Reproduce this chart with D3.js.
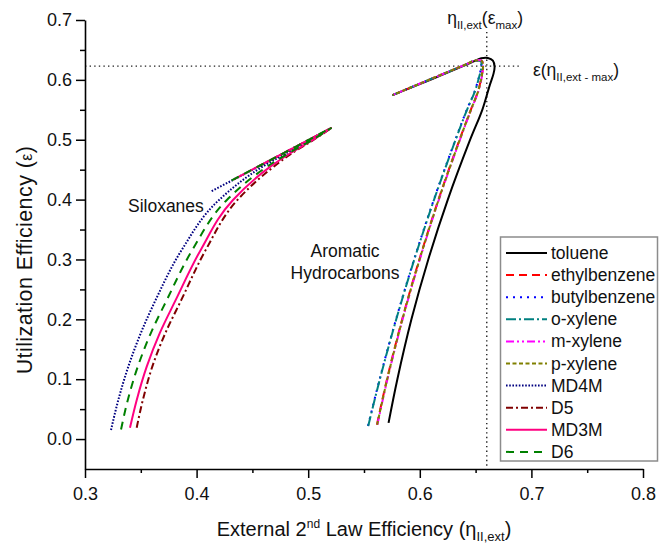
<!DOCTYPE html>
<html><head><meta charset="utf-8">
<script src="https://cdn.jsdelivr.net/npm/d3@7"></script>
<style>
body{margin:0;background:#fff}
text{font-family:"Liberation Sans",Arial,Helvetica,sans-serif;fill:#111}
</style></head>
<body><svg id="c" width="659" height="547"></svg>
<script>
// ---- data: [eta_II,ext, epsilon] ----
const toluene = [[0.572,0.027],[0.5799,0.1],[0.5925,0.2],[0.6076,0.3],[0.6251,0.4],[0.6451,0.5],[0.6560,0.55],[0.6625,0.59],[0.6660,0.61],[0.6670,0.622],[0.6655,0.632],[0.6610,0.6365],[0.6550,0.636],[0.6450,0.628],[0.6100,0.6005],[0.5755,0.5745]];
const ethylbenzene = [[0.5616,0.024],[0.5706,0.1],[0.5842,0.2],[0.5996,0.3],[0.6167,0.4],[0.6356,0.5],[0.6457,0.55],[0.6520,0.58],[0.6553,0.605],[0.6565,0.622],[0.6555,0.6315],[0.6500,0.6323],[0.6400,0.6248],[0.6100,0.6014],[0.5755,0.5745]];
const butylbenzene = [[0.5536,0.022],[0.5640,0.1],[0.5787,0.2],[0.5949,0.3],[0.6126,0.4],[0.6319,0.5],[0.6421,0.55],[0.6490,0.58],[0.6530,0.605],[0.6550,0.622],[0.6545,0.631],[0.6490,0.6315],[0.6400,0.6245],[0.6100,0.6014],[0.5755,0.5745]];
const oxylene = [[0.5538,0.022],[0.5642,0.1],[0.5789,0.2],[0.5951,0.3],[0.6128,0.4],[0.6321,0.5],[0.6423,0.55],[0.6492,0.58],[0.6532,0.605],[0.6552,0.622],[0.6547,0.631],[0.6490,0.6318],[0.6400,0.6247],[0.6100,0.6014],[0.5755,0.5745]];
const mxylene = [[0.5620,0.024],[0.5710,0.1],[0.5846,0.2],[0.6000,0.3],[0.6171,0.4],[0.6360,0.5],[0.6460,0.55],[0.6523,0.58],[0.6556,0.605],[0.6567,0.622],[0.6557,0.6317],[0.6500,0.6325],[0.6400,0.6248],[0.6100,0.6014],[0.5755,0.5745]];
const pxylene = [[0.5618,0.024],[0.5708,0.1],[0.5844,0.2],[0.5998,0.3],[0.6169,0.4],[0.6358,0.5],[0.6458,0.55],[0.6521,0.58],[0.6554,0.605],[0.6566,0.622],[0.6556,0.6316],[0.6500,0.6324],[0.6400,0.6248],[0.6100,0.6014],[0.5755,0.5745]];
const MD4M = [[0.3233,0.015],[0.3298,0.065],[0.3388,0.121],[0.3500,0.177],[0.3632,0.232],[0.3867,0.316],[0.4199,0.399],[0.4591,0.455],[0.4800,0.477],[0.5030,0.500],[0.5210,0.520],[0.4135,0.414]];
const D5 = [[0.3463,0.019],[0.3518,0.065],[0.3603,0.121],[0.3720,0.177],[0.3862,0.232],[0.4082,0.316],[0.4364,0.399],[0.4691,0.455],[0.4850,0.477],[0.5050,0.500],[0.5210,0.520],[0.4550,0.4550]];
const MD3M = [[0.3403,0.019],[0.3463,0.065],[0.3553,0.121],[0.3670,0.177],[0.3812,0.232],[0.4037,0.316],[0.4324,0.399],[0.4661,0.455],[0.4835,0.477],[0.5045,0.500],[0.5210,0.520],[0.4330,0.4335]];
const D6 = [[0.3323,0.016],[0.3383,0.065],[0.3473,0.121],[0.3590,0.177],[0.3732,0.232],[0.3962,0.316],[0.4269,0.399],[0.4631,0.455],[0.4820,0.477],[0.5040,0.500],[0.5210,0.520],[0.4315,0.4320]];

const seriesNames = ["toluene","ethylbenzene","butylbenzene","o-xylene","m-xylene","p-xylene","MD4M","D5","MD3M","D6"];
const seriesData = [toluene,ethylbenzene,butylbenzene,oxylene,mxylene,pxylene,MD4M,D5,MD3M,D6];
const seriesGroup = ["aromatic","aromatic","aromatic","aromatic","aromatic","aromatic","siloxane","siloxane","siloxane","siloxane"];
const seriesColors = ["#000000","#ff0000","#0000ff","#008080","#ff00ff","#808000","#000080","#800000","#ff0080","#008000"];
const seriesDash = ["none","8,5","2,5","10,3,2,3","8,3,2,3,2,3","4,2.5","1.6,1.6","7,3,2,3","none","8,6"];

const xMajor = [0.3,0.4,0.5,0.6,0.7,0.8];
const xMinor = [0.35,0.45,0.55,0.65,0.75];
const yMajor = [0.0,0.1,0.2,0.3,0.4,0.5,0.6,0.7];
const yMinor = [0.05,0.15,0.25,0.35,0.45,0.55,0.65];
const etaAtEpsMax = 0.66;   // vertical dotted line
const epsAtEtaMax = 0.623;  // horizontal dotted line

// ---- drawing ----
const svg = d3.select("#c");
const x = d3.scaleLinear().domain([0.3,0.8]).range([85,643]);
const y = d3.scaleLinear().domain([-0.05,0.7]).range([469,20]);
const fmt = d3.format(".1f");

// reference lines
svg.append("line").attr("x1",x(etaAtEpsMax)).attr("x2",x(etaAtEpsMax)).attr("y1",y(0.68)).attr("y2",y(-0.05))
  .attr("stroke","#222").attr("stroke-width",1.4).attr("stroke-dasharray","1.4,3.2");
svg.append("line").attr("x1",x(0.3)).attr("x2",x(0.691)).attr("y1",y(epsAtEtaMax)).attr("y2",y(epsAtEtaMax))
  .attr("stroke","#222").attr("stroke-width",1.4).attr("stroke-dasharray","1.4,3.2");

// axes
function styleAxis(g){
  g.selectAll("path.domain").attr("stroke","#000").attr("stroke-width",1.6);
  g.selectAll(".tick line").attr("stroke","#000").attr("stroke-width",1.5);
  g.selectAll("text").style("font-size","18px").attr("fill","#111");
}
svg.append("g").attr("transform",`translate(0,${y(-0.05)})`)
  .call(d3.axisBottom(x).tickValues(xMinor).tickSize(4).tickSizeOuter(0).tickFormat(""))
  .call(g=>{g.select("path.domain").remove(); styleAxis(g);});
svg.append("g").attr("transform",`translate(${x(0.3)},0)`)
  .call(d3.axisLeft(y).tickValues(yMinor).tickSize(5).tickSizeOuter(0).tickFormat(""))
  .call(g=>{g.select("path.domain").remove(); styleAxis(g);});
svg.append("g").attr("transform",`translate(0,${y(-0.05)})`)
  .call(d3.axisBottom(x).tickValues(xMajor).tickSize(9).tickSizeOuter(0).tickPadding(9).tickFormat(fmt))
  .call(styleAxis);
svg.append("g").attr("transform",`translate(${x(0.3)},0)`)
  .call(d3.axisLeft(y).tickValues(yMajor).tickSize(9).tickSizeOuter(0).tickPadding(4).tickFormat(fmt))
  .call(styleAxis);

// curves
const smooth = d3.line().x(d=>x(d[0])).y(d=>y(d[1])).curve(d3.curveCatmullRom.alpha(0.5));
const mono = d3.line().x(d=>x(d[0])).y(d=>y(d[1])).curve(d3.curveMonotoneY);
seriesData.forEach((data,i)=>{
  let d;
  if (seriesGroup[i]==="siloxane"){
    const k = d3.maxIndex(data, p=>p[1]);
    const lower = data.slice(0,k+1);
    const upper = data.slice(k).slice().reverse();
    d = mono(lower) + mono(upper);
  } else {
    d = smooth(data);
  }
  svg.append("path").attr("d",d).attr("fill","none")
    .attr("stroke",seriesColors[i]).attr("stroke-width",2)
    .attr("stroke-dasharray",seriesDash[i]).attr("stroke-linejoin","round");
});

// annotations
svg.append("text").attr("x",x(0.3385)).attr("y",y(0.379)).style("font-size","17.5px").text("Siloxanes");
svg.append("text").attr("x",x(0.533)).attr("y",y(0.304)).attr("text-anchor","middle").style("font-size","17.5px").text("Aromatic");
svg.append("text").attr("x",x(0.533)).attr("y",y(0.267)).attr("text-anchor","middle").style("font-size","17.5px").text("Hydrocarbons");

const t1 = svg.append("text").attr("x",x(0.6245)).attr("y",y(0.693)).style("font-size","17.5px");
t1.append("tspan").text("η");
t1.append("tspan").attr("dy",5).style("font-size","11.5px").text("II,ext");
t1.append("tspan").attr("dy",-5).text("(ε");
t1.append("tspan").attr("dy",5).style("font-size","11.5px").text("max");
t1.append("tspan").attr("dy",-5).text(")");

const t2 = svg.append("text").attr("x",x(0.7014)).attr("y",y(0.607)).style("font-size","17.5px");
t2.append("tspan").text("ε(η");
t2.append("tspan").attr("dy",5).style("font-size","11.5px").text("II,ext - max");
t2.append("tspan").attr("dy",-5).text(")");

// axis titles
const xt = svg.append("text").attr("x",364).attr("y",536).attr("text-anchor","middle").style("font-size","20px");
xt.append("tspan").text("External 2");
xt.append("tspan").attr("dy",-8).style("font-size","12px").text("nd");
xt.append("tspan").attr("dy",8).text(" Law Efficiency (η");
xt.append("tspan").attr("dy",5).style("font-size","13px").text("II,ext");
xt.append("tspan").attr("dy",-5).text(")");

const yt = svg.append("text").attr("transform","translate(32,260) rotate(-90)").attr("text-anchor","middle")
  .style("font-size","21.5px").style("letter-spacing","0.4px");
yt.append("tspan").text("Utilization Efficiency (");
yt.append("tspan").style("font-size","16px").text("ε");
yt.append("tspan").text(")");

// legend
const lg = svg.append("g");
lg.append("rect").attr("x",500.5).attr("y",237).attr("width",157).attr("height",224)
  .attr("fill","#fff").attr("stroke","#8c8c8c").attr("stroke-width",1.5);
seriesNames.forEach((name,i)=>{
  const cy = 253 + i*22.1;
  lg.append("line").attr("x1",506).attr("x2",547).attr("y1",cy).attr("y2",cy)
    .attr("stroke",seriesColors[i]).attr("stroke-width",2).attr("stroke-dasharray",seriesDash[i]);
  lg.append("text").attr("x",551).attr("y",cy+6).style("font-size","17.5px").text(name);
});
</script>
</body></html>
